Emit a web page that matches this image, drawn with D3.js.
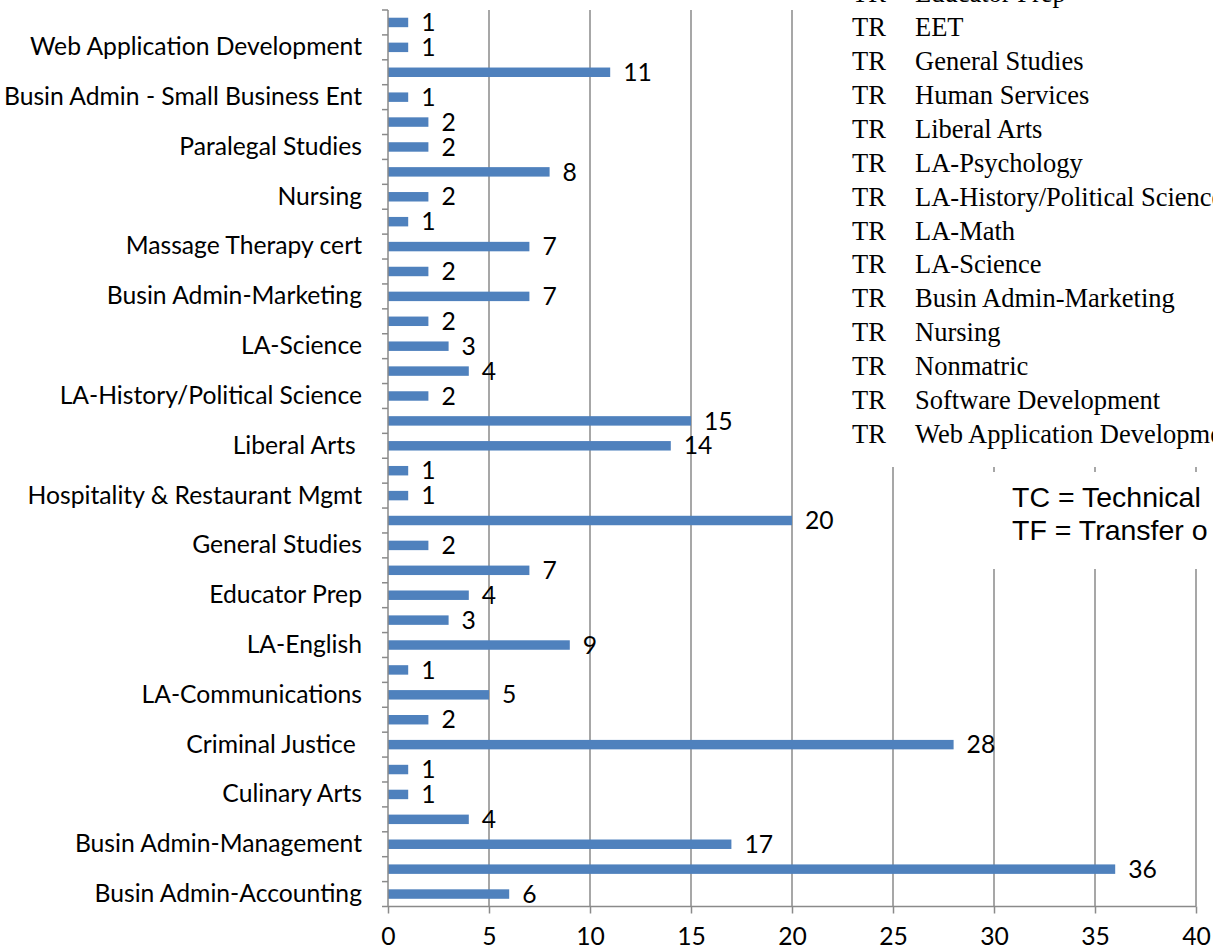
<!DOCTYPE html>
<html>
<head>
<meta charset="utf-8">
<script src="https://cdn.jsdelivr.net/npm/d3@7"></script>
<style>
  body { margin: 0; background: #fff; }
  svg { display: block; }
</style>
</head>
<body>
<svg id="chart" width="1213" height="951"></svg>
<script>
// top to bottom, every second program name is hidden as in the original
let programs = ['', 'Web Application Development', '', 'Busin Admin - Small Business Ent', '', 'Paralegal Studies',
  '', 'Nursing', '', 'Massage Therapy cert', '', 'Busin Admin-Marketing',
  '', 'LA-Science', '', 'LA-History/Political Science', '', 'Liberal Arts ',
  '', 'Hospitality & Restaurant Mgmt', '', 'General Studies', '', 'Educator Prep',
  '', 'LA-English', '', 'LA-Communications', '', 'Criminal Justice ',
  '', 'Culinary Arts', '', 'Busin Admin-Management', '', 'Busin Admin-Accounting']
let students = [1, 1, 11, 1, 2, 2, 8, 2, 1, 7, 2, 7, 2, 3, 4, 2, 15, 14,
  1, 1, 20, 2, 7, 4, 3, 9, 1, 5, 2, 28, 1, 1, 4, 17, 36, 6]
let xTicks = [0, 5, 10, 15, 20, 25, 30, 35, 40]

let legendTypes = ['TR', 'TR', 'TR', 'TR', 'TR', 'TR', 'TR', 'TR', 'TR', 'TR', 'TR', 'TR', 'TR', 'TR']
let legendPrograms = ['Educator Prep', 'EET', 'General Studies', 'Human Services', 'Liberal Arts', 'LA-Psychology',
  'LA-History/Political Science', 'LA-Math', 'LA-Science', 'Busin Admin-Marketing', 'Nursing', 'Nonmatric',
  'Software Development', 'Web Application Development']
let notes = ['TC = Technical', 'TF = Transfer o']

const svg = d3.select('#chart')
const gray = '#8a8a8a'
const font = 'Lato, "Open Sans", sans-serif'
const fontSize = '24.7px'

const x = d3.scaleLinear().domain([0, 40]).range([388, 1196])
const y = d3.scaleBand()
  .domain(d3.range(programs.length))
  .range([10, 906.5])
  .paddingInner(0.62)
  .paddingOuter(0.31)

const plotTop = y.range()[0]
const plotBottom = y.range()[1]

svg.append('rect').attr('width', 1213).attr('height', 951).style('fill', '#fff')

// vertical gridlines
svg.append('g')
  .selectAll('line')
  .data(xTicks.slice(1))
  .join('line')
  .attr('x1', d => x(d))
  .attr('x2', d => x(d))
  .attr('y1', plotTop)
  .attr('y2', plotBottom)
  .style('stroke', gray)
  .style('stroke-width', 1.5)

// bars
svg.append('g')
  .selectAll('rect')
  .data(students)
  .join('rect')
  .attr('x', x(0))
  .attr('y', (d, i) => y(i))
  .attr('width', d => x(d) - x(0))
  .attr('height', y.bandwidth())
  .style('fill', '#4f81bd')

// value labels
svg.append('g')
  .selectAll('text')
  .data(students)
  .join('text')
  .attr('x', d => x(d) + 13)
  .attr('y', (d, i) => y(i) + y.bandwidth() / 2)
  .attr('dy', '0.35em')
  .text(d => d)
  .style('font-family', font)
  .style('font-size', fontSize)
  .style('fill', '#000')

// category axis
const yAxis = d3.axisLeft(y)
  .tickSize(0)
  .tickPadding(26)
  .tickFormat(i => programs[i])
const gy = svg.append('g')
  .attr('transform', `translate(${x(0)},0)`)
  .call(yAxis)
gy.select('.domain').remove()
gy.selectAll('text')
  .style('font-family', font)
  .style('font-size', fontSize)
  .style('fill', '#000')
  .style('white-space', 'pre')

// band boundary ticks + axis line
const step = y.step()
svg.append('g')
  .selectAll('line')
  .data(d3.range(programs.length + 1))
  .join('line')
  .attr('x1', x(0) - 6)
  .attr('x2', x(0))
  .attr('y1', i => plotTop + i * step)
  .attr('y2', i => plotTop + i * step)
  .style('stroke', gray)
  .style('stroke-width', 1.5)
svg.append('line')
  .attr('x1', x(0)).attr('x2', x(0))
  .attr('y1', plotTop).attr('y2', plotBottom)
  .style('stroke', gray)
  .style('stroke-width', 1.5)

// value axis
const xAxis = d3.axisBottom(x)
  .tickValues(xTicks)
  .tickSize(7)
  .tickPadding(14)
const gx = svg.append('g')
  .attr('transform', `translate(0,${plotBottom})`)
  .call(xAxis)
gx.select('.domain')
  .attr('d', `M${x(0)},0H${x(40)}`)
  .style('stroke', gray)
  .style('stroke-width', 1.5)
gx.selectAll('.tick line')
  .style('stroke', gray)
  .style('stroke-width', 1.5)
gx.selectAll('text')
  .style('font-family', font)
  .style('font-size', fontSize)
  .style('fill', '#000')

// pasted table over the top right of the chart
svg.append('rect')
  .attr('x', 795).attr('y', 0)
  .attr('width', 420).attr('height', 467)
  .style('fill', '#fff')

const rowY = d3.scaleLinear().domain([0, 1]).range([-7, 26.9])
const legend = svg.append('g')
  .style('font-family', '"Liberation Serif", "Times New Roman", serif')
  .style('font-size', '26.5px')
  .style('fill', '#000')
legend.selectAll('text.type')
  .data(legendTypes)
  .join('text')
  .attr('class', 'type')
  .attr('x', 852)
  .attr('y', (d, i) => rowY(i))
  .attr('dy', '0.35em')
  .text(d => d)
legend.selectAll('text.prog')
  .data(legendPrograms)
  .join('text')
  .attr('class', 'prog')
  .attr('x', 915)
  .attr('y', (d, i) => rowY(i))
  .attr('dy', '0.35em')
  .text(d => d)

// text box with the abbreviations
svg.append('rect')
  .attr('x', 960).attr('y', 472)
  .attr('width', 260).attr('height', 97)
  .style('fill', '#fff')
svg.append('g')
  .selectAll('text')
  .data(notes)
  .join('text')
  .attr('x', 1012)
  .attr('y', (d, i) => 507 + i * 33)
  .text(d => d)
  .style('font-family', '"Liberation Sans", Arial, sans-serif')
  .style('font-size', '28.5px')
  .style('fill', '#000')
</script>
</body>
</html>
